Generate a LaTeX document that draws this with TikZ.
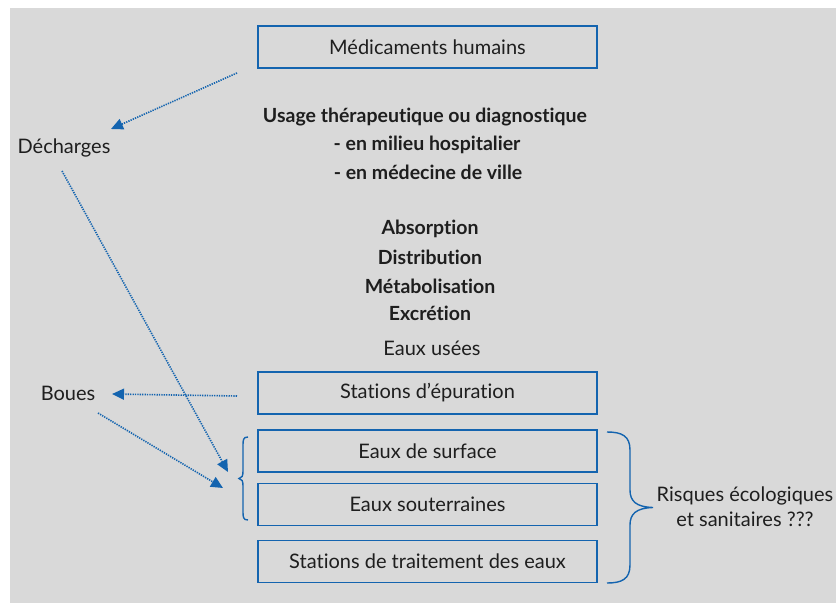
\documentclass[tikz,border=0pt]{standalone}
\usepackage{fontspec}
\setmainfont{Lato}[Ligatures=NoCommon]
\usetikzlibrary{arrows.meta}
\definecolor{bg}{HTML}{D9D9D9}
\definecolor{myblue}{HTML}{1464AF}
\definecolor{txt}{HTML}{1E1E1E}
\tikzset{
  box/.style={draw=myblue, line width=1.6pt, minimum width=339pt, minimum height=42pt, inner sep=0pt, text=txt, font=\fontsize{20}{24}\selectfont},
  lbl/.style={text=txt, font=\fontsize{20}{24}\selectfont, inner sep=0pt},
  bld/.style={text=txt, font=\fontsize{19.5}{28}\selectfont\bfseries, align=center, inner sep=0pt},
  arr/.style={draw=myblue, line width=1.6pt, dash pattern=on 1.3pt off 1.1pt, -{Triangle[length=12pt,width=11pt]}},
  brace/.style={draw=myblue, line width=1.4pt}
}
\begin{document}
\begin{tikzpicture}[x=1pt,y=-1pt]
\useasboundingbox (0,0) rectangle (836,603);
\fill[white] (0,0) rectangle (836,603);
\fill[bg] (10,8) rectangle (836,603);

\node[box] (med) at (427.5,47) {Médicaments humains};
\node[box] (step) at (427.5,393) {Stations d’épuration};
\node[box] (surf) at (427.5,451) {Eaux de surface};
\node[box] (sout) at (427.5,504.5) {Eaux souterraines};
\node[box] (stte) at (427.5,561.5) {Stations de traitement des eaux};

\node[bld] (usage) at (425,117) {Usage thérapeutique ou diagnostique};
\node[bld] (hosp) at (427,145) {- en milieu hospitalier};
\node[bld] (ville) at (428,172) {- en médecine de ville};
\node[bld] (abs) at (430,229) {Absorption};
\node[bld] (dist) at (430,257) {Distribution};
\node[bld] (meta) at (430,286) {Métabolisation};
\node[bld] (excr) at (430,313) {Excrétion};
\node[lbl] (usees) at (432,348) {Eaux usées};

\node[lbl] (dech) at (64,148) {Décharges};
\node[lbl] (boues) at (68,393) {Boues};
\node[lbl, align=center, font=\fontsize{20}{25}\selectfont] (risq) at (745,507) {Risques écologiques\\et sanitaires ???};

\coordinate (a1s) at (237,73);
\coordinate (a1e) at (111,129);
\coordinate (a2s) at (62,171);
\coordinate (a2e) at (228,472);
\coordinate (a3s) at (237,396);
\coordinate (a3e) at (112,394);
\coordinate (a4s) at (98,413);
\coordinate (a4e) at (223,488);

\draw[arr] (a1s) -- (a1e);
\draw[arr] (a2s) -- (a2e);
\draw[arr] (a3s) -- (a3e);
\draw[arr] (a4s) -- (a4e);

% left brace
\draw[brace] (248,437) .. controls (243,437) and (243,440) .. (243,446) -- (243,471) .. controls (243,476) and (242,478) .. (239,478.5)
  .. controls (242,479) and (243,481) .. (243,486) -- (243,511) .. controls (243,517) and (243,520) .. (248,520);
% right brace
\draw[brace] (607,432) .. controls (622,432) and (630,436) .. (630,450) -- (630,490) .. controls (630,501) and (636,507) .. (653,507.5)
  .. controls (636,508) and (630,514) .. (630,525) -- (630,565) .. controls (630,579) and (622,583) .. (607,583);
\end{tikzpicture}
\end{document}
